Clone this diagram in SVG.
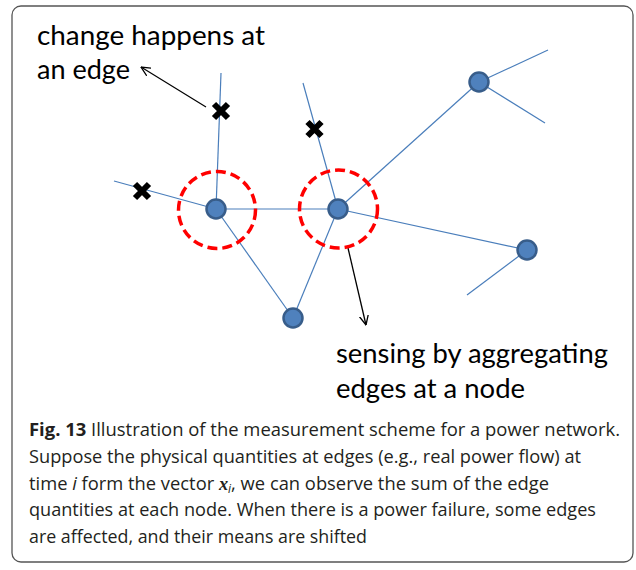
<svg xmlns="http://www.w3.org/2000/svg" width="636" height="570" viewBox="0 0 636 570">
<style>
.edge{stroke:#4a7ebb;stroke-width:1.2;fill:none}
.node{fill:#4f81bd;stroke:#385d8a;stroke-width:2.5}
.ring{fill:none;stroke:#ff0000;stroke-width:3.5;stroke-dasharray:10 5}
.cross{stroke:#000;stroke-width:6;stroke-linecap:butt}
.arrow{stroke:#000;stroke-width:1.3;fill:none}
.lbl{font-family:Lato,"Open Sans","Liberation Sans",sans-serif;font-size:26px;fill:#000}
.cap{font-family:"Open Sans","Noto Sans","Liberation Sans",sans-serif;font-size:18.5px;fill:#231f20}
</style>
<defs>
<marker id="open" viewBox="0 0 10 10" refX="9.5" refY="5" markerWidth="10" markerHeight="10" markerUnits="userSpaceOnUse" orient="auto">
<path d="M0,0.5 L9.5,5 L0,9.5" fill="none" stroke="#000" stroke-width="1.3"/>
</marker>
</defs>
<rect x="12" y="6" width="621" height="556" rx="9" ry="9" fill="#fff" stroke="#555" stroke-width="1.3"/>
<g id="connectors">
<line class="edge" x1="216" y1="209" x2="221" y2="73"/>
<line class="edge" x1="216" y1="209" x2="114" y2="181"/>
<line class="edge" x1="216" y1="209" x2="338" y2="209"/>
<line class="edge" x1="216" y1="209" x2="293" y2="318"/>
<line class="edge" x1="338" y1="209" x2="293" y2="318"/>
<line class="edge" x1="338" y1="209" x2="303" y2="83"/>
<line class="edge" x1="338" y1="209" x2="479" y2="82"/>
<line class="edge" x1="338" y1="209" x2="527" y2="250"/>
<line class="edge" x1="479" y1="82" x2="548" y2="50"/>
<line class="edge" x1="479" y1="82" x2="545" y2="123"/>
<line class="edge" x1="527" y1="250" x2="467" y2="295"/>
<line class="arrow" x1="206" y1="107" x2="141" y2="67" marker-end="url(#open)"/>
<line class="arrow" x1="348" y1="248" x2="366" y2="325" marker-end="url(#open)"/>
</g>
<g id="rings">
<circle class="ring" cx="217" cy="210" r="38.5"/>
<circle class="ring" cx="338.5" cy="209" r="39"/>
</g>
<g id="node-a"><circle class="node" cx="216" cy="209" r="9.5"/></g>
<g id="node-b"><circle class="node" cx="338" cy="209" r="9.5"/></g>
<g id="node-c"><circle class="node" cx="293" cy="318" r="9.5"/></g>
<g id="node-d"><circle class="node" cx="479" cy="82" r="9.5"/></g>
<g id="node-e"><circle class="node" cx="527" cy="250" r="9.5"/></g>
<g id="crosses">
<path class="cross" d="M214,104 L228,118 M228,104 L214,118"/>
<path class="cross" d="M135,184 L149,198 M149,184 L135,198"/>
<path class="cross" d="M307.5,122 L321.5,136 M321.5,122 L307.5,136"/>
</g>
<g id="labels">
<text class="lbl" x="37" y="45" textLength="228" lengthAdjust="spacingAndGlyphs">change happens at</text>
<text class="lbl" x="37" y="79" textLength="93" lengthAdjust="spacingAndGlyphs">an edge</text>
<text class="lbl" x="336" y="363" textLength="272" lengthAdjust="spacingAndGlyphs">sensing by aggregating</text>
<text class="lbl" x="336" y="398" textLength="189" lengthAdjust="spacingAndGlyphs">edges at a node</text>
</g>
<g id="caption">
<text class="cap" x="29" y="436" textLength="591" lengthAdjust="spacingAndGlyphs"><tspan font-weight="bold">Fig. 13</tspan> Illustration of the measurement scheme for a power network.</text>
<text class="cap" x="29" y="463" textLength="552" lengthAdjust="spacingAndGlyphs">Suppose the physical quantities at edges (e.g., real power flow) at</text>
<text class="cap" x="29" y="490" textLength="520" lengthAdjust="spacingAndGlyphs">time <tspan font-style="italic">i</tspan> form the vector <tspan font-family="'Liberation Serif',serif" font-weight="bold" font-style="italic">x</tspan><tspan font-style="italic" font-size="12px" dy="3">i</tspan><tspan dy="-3">, we can observe the sum of the edge</tspan></text>
<text class="cap" x="29" y="516" textLength="567" lengthAdjust="spacingAndGlyphs">quantities at each node. When there is a power failure, some edges</text>
<text class="cap" x="29" y="543" textLength="338" lengthAdjust="spacingAndGlyphs">are affected, and their means are shifted</text>
</g>
</svg>
